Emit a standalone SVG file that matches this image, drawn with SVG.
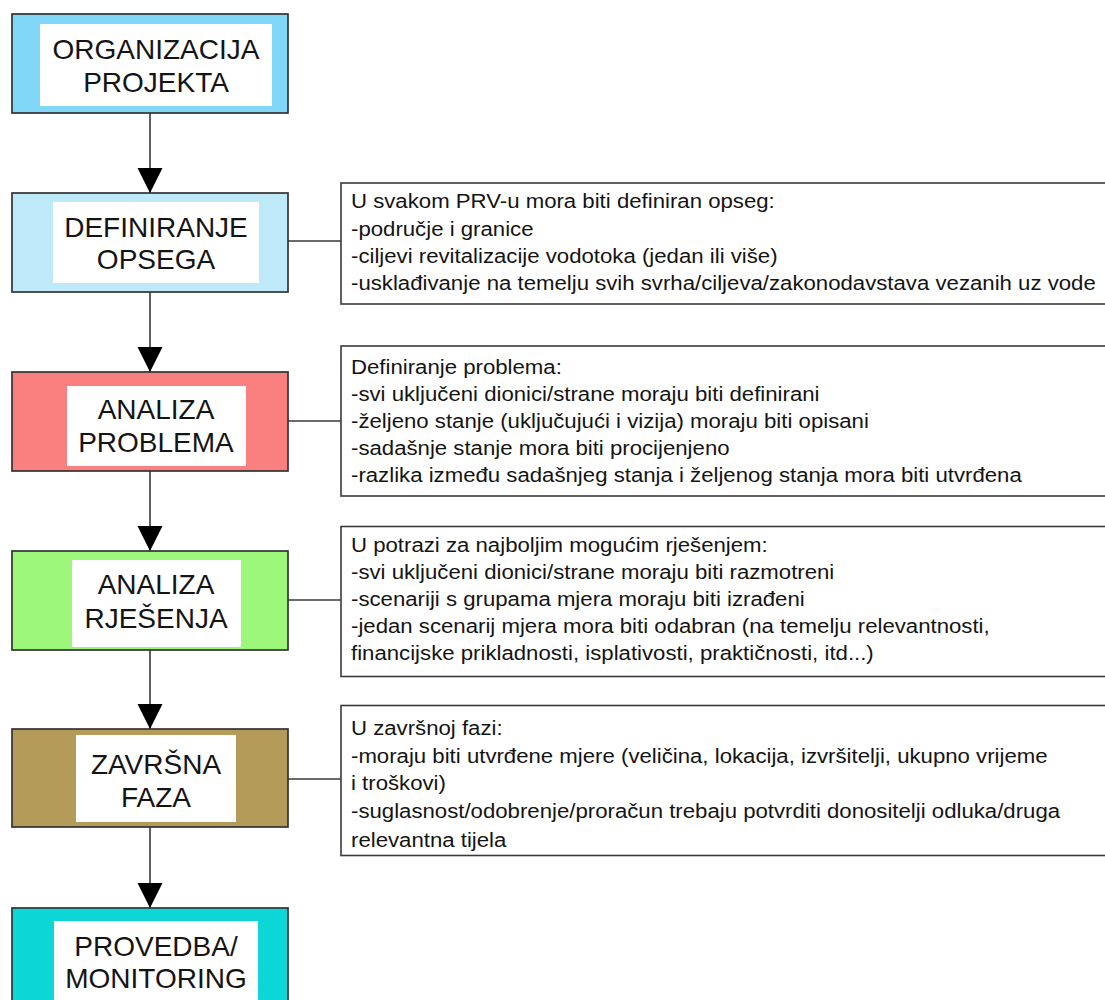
<svg xmlns="http://www.w3.org/2000/svg" width="1105" height="1000" viewBox="0 0 1105 1000">
<style>
.outer{stroke:#333333;stroke-width:1.7}
.inner{fill:#ffffff;stroke:none}
.nt{font-family:"Liberation Sans",Arial,sans-serif;font-size:28px;fill:#141414;text-anchor:middle}
.st{font-family:"Liberation Sans",Arial,sans-serif;font-size:21px;fill:#141414}
.sbox{fill:#ffffff;stroke:#3a3a3a;stroke-width:1.6}
.conn{stroke:#3a3a3a;stroke-width:1.6;fill:none}
</style>
<defs>
<marker id="arr" markerUnits="userSpaceOnUse" markerWidth="26" markerHeight="26" refX="25" refY="12.5" orient="auto">
<path d="M0,0 L25,12.5 L0,25 Z" fill="#000000"/>
</marker>
</defs>
<rect width="1105" height="1000" fill="#ffffff"/>

<g id="connectors">
<line class="conn" x1="150" y1="113" x2="150" y2="193" marker-end="url(#arr)"/>
<line class="conn" x1="150" y1="292" x2="150" y2="372" marker-end="url(#arr)"/>
<line class="conn" x1="150" y1="471" x2="150" y2="551" marker-end="url(#arr)"/>
<line class="conn" x1="150" y1="650" x2="150" y2="729" marker-end="url(#arr)"/>
<line class="conn" x1="150" y1="827" x2="150" y2="908" marker-end="url(#arr)"/>
<line class="conn" x1="288" y1="241" x2="341" y2="241"/>
<line class="conn" x1="288" y1="421" x2="341" y2="421"/>
<line class="conn" x1="288" y1="600" x2="341" y2="600"/>
<line class="conn" x1="288" y1="779" x2="341" y2="779"/>
</g>

<g id="node-organizacija">
<rect class="outer" x="12" y="14" width="276" height="99" fill="#80d7f7"/>
<rect class="inner" x="40" y="24" width="232" height="82"/>
<text class="nt" x="156" y="59">ORGANIZACIJA</text>
<text class="nt" x="156" y="92">PROJEKTA</text>
</g>

<g id="node-definiranje">
<rect class="outer" x="12" y="193" width="276" height="99" fill="#bde9f9"/>
<rect class="inner" x="53" y="202" width="206" height="81"/>
<text class="nt" x="156" y="237">DEFINIRANJE</text>
<text class="nt" x="156" y="269">OPSEGA</text>
</g>

<g id="node-analiza-problema">
<rect class="outer" x="12" y="372" width="276" height="99" fill="#fa8080"/>
<rect class="inner" x="67" y="386" width="179" height="80"/>
<text class="nt" x="156" y="419">ANALIZA</text>
<text class="nt" x="156" y="452">PROBLEMA</text>
</g>

<g id="node-analiza-rjesenja">
<rect class="outer" x="12" y="551" width="276" height="99" fill="#9cf77b"/>
<rect class="inner" x="72" y="560" width="169" height="87"/>
<text class="nt" x="156" y="594">ANALIZA</text>
<text class="nt" x="156" y="628">RJEŠENJA</text>
</g>

<g id="node-zavrsna">
<rect class="outer" x="12" y="729" width="276" height="98" fill="#b49b5a"/>
<rect class="inner" x="76" y="735" width="160" height="87"/>
<text class="nt" x="156" y="774">ZAVRŠNA</text>
<text class="nt" x="156" y="807">FAZA</text>
</g>

<g id="node-provedba">
<rect class="outer" x="12" y="908" width="276" height="110" fill="#0cd6d6"/>
<rect class="inner" x="54" y="921" width="204" height="90"/>
<text class="nt" x="156" y="956">PROVEDBA/</text>
<text class="nt" x="156" y="988">MONITORING</text>
</g>

<g id="note-opseg">
<rect class="sbox" x="341" y="183" width="800" height="121"/>
<g transform="translate(351,0) scale(1.057,1)">
<text class="st" x="0" y="208.5">U svakom PRV-u mora biti definiran opseg:</text>
<text class="st" x="0" y="235.7">-područje i granice</text>
<text class="st" x="0" y="262.9">-ciljevi revitalizacije vodotoka (jedan ili više)</text>
<text class="st" x="0" y="290">-usklađivanje na temelju svih svrha/ciljeva/zakonodavstava vezanih uz vode</text>
</g>
</g>

<g id="note-problem">
<rect class="sbox" x="341" y="346" width="800" height="150"/>
<g transform="translate(351,0) scale(1.057,1)">
<text class="st" x="0" y="374">Definiranje problema:</text>
<text class="st" x="0" y="401.5">-svi uključeni dionici/strane moraju biti definirani</text>
<text class="st" x="0" y="428.5">-željeno stanje (uključujući i vizija) moraju biti opisani</text>
<text class="st" x="0" y="455.5">-sadašnje stanje mora biti procijenjeno</text>
<text class="st" x="0" y="482">-razlika između sadašnjeg stanja i željenog stanja mora biti utvrđena</text>
</g>
</g>

<g id="note-rjesenje">
<rect class="sbox" x="341" y="526.5" width="800" height="150"/>
<g transform="translate(351,0) scale(1.057,1)">
<text class="st" x="0" y="552.5">U potrazi za najboljim mogućim rješenjem:</text>
<text class="st" x="0" y="579.5">-svi uključeni dionici/strane moraju biti razmotreni</text>
<text class="st" x="0" y="606.3">-scenariji s grupama mjera moraju biti izrađeni</text>
<text class="st" x="0" y="633">-jedan scenarij mjera mora biti odabran (na temelju relevantnosti,</text>
<text class="st" x="0" y="660">financijske prikladnosti, isplativosti, praktičnosti, itd...)</text>
</g>
</g>

<g id="note-zavrsna">
<rect class="sbox" x="341" y="705.5" width="800" height="150"/>
<g transform="translate(351,0) scale(1.057,1)">
<text class="st" x="0" y="735.5">U završnoj fazi:</text>
<text class="st" x="0" y="763">-moraju biti utvrđene mjere (veličina, lokacija, izvršitelji, ukupno vrijeme</text>
<text class="st" x="0" y="790.5">i troškovi)</text>
<text class="st" x="0" y="818.5">-suglasnost/odobrenje/proračun trebaju potvrditi donositelji odluka/druga</text>
<text class="st" x="0" y="847">relevantna tijela</text>
</g>
</g>
</svg>
